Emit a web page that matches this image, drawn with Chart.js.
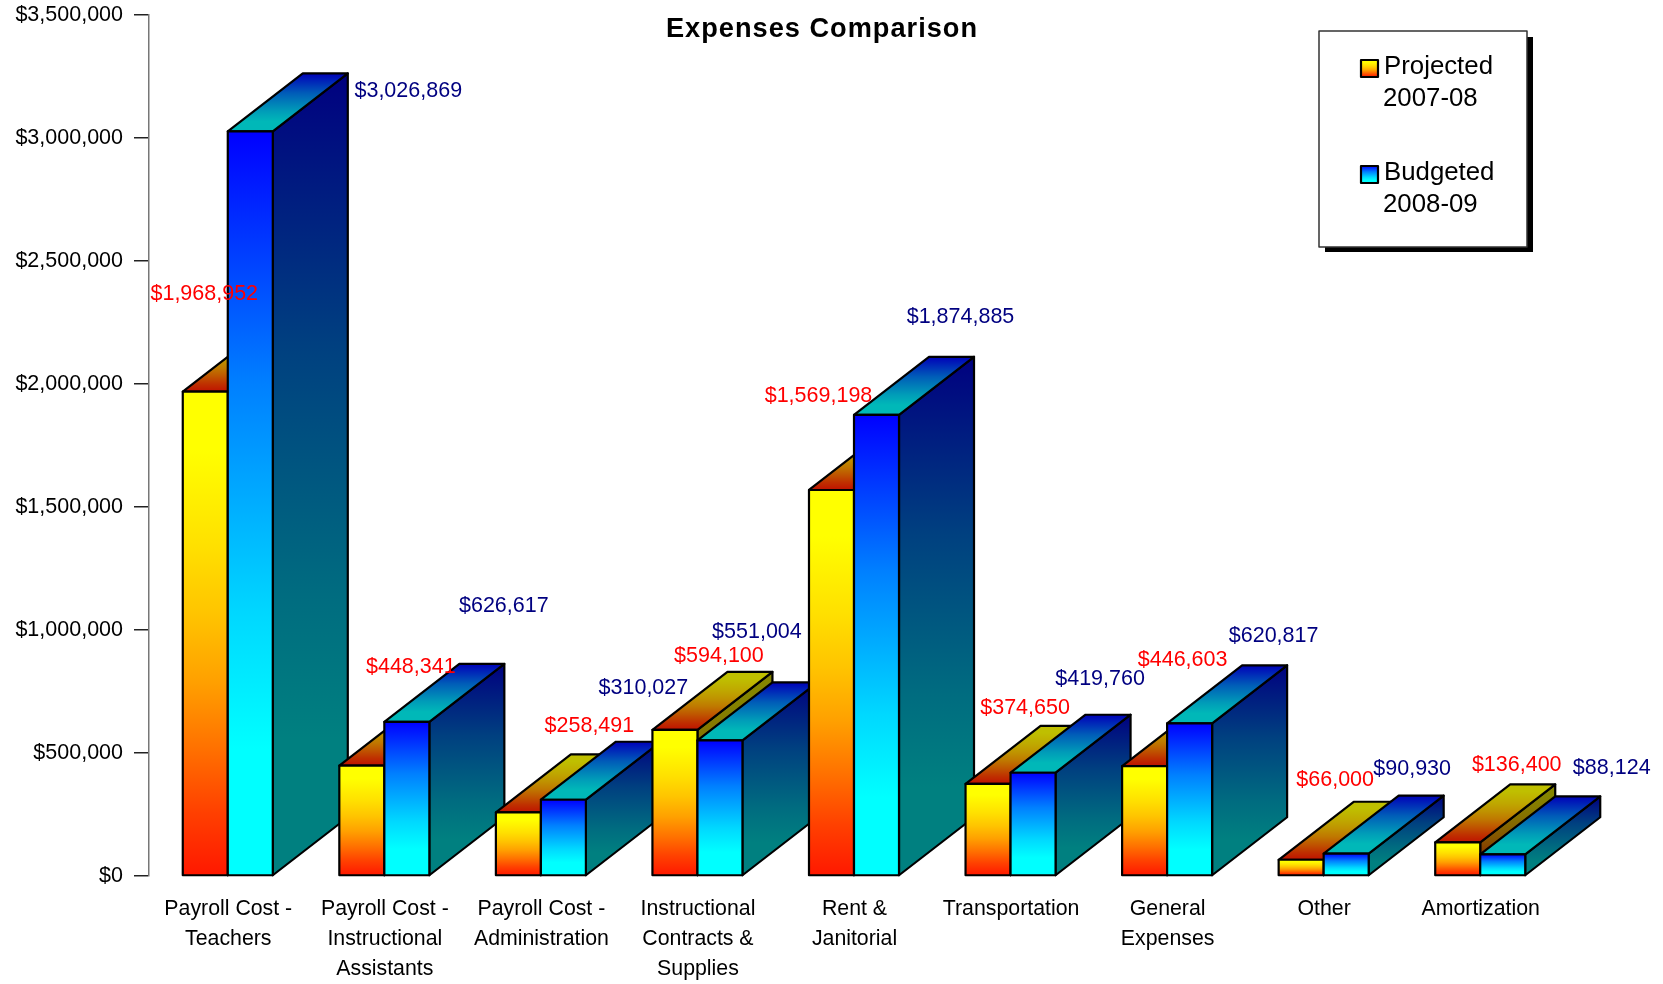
<!DOCTYPE html>
<html>
<head>
<meta charset="utf-8">
<title>Expenses Comparison</title>
<script src="https://cdn.jsdelivr.net/npm/chart.js@4/dist/chart.umd.min.js"></script>
<style>
    html, body { margin: 0; padding: 0; background: #fff; }
    canvas { display: block; }
</style>
</head>
<body>
<canvas id="expenses-chart" width="1663" height="984"></canvas>
<script>
const CHART_TITLE = 'Expenses Comparison';

const categories = [
    ['Payroll Cost -', 'Teachers'],
    ['Payroll Cost -', 'Instructional', 'Assistants'],
    ['Payroll Cost -', 'Administration'],
    ['Instructional', 'Contracts &', 'Supplies'],
    ['Rent &', 'Janitorial'],
    'Transportation',
    ['General', 'Expenses'],
    'Other',
    'Amortization'
];

const projected = [1968952, 448341, 258491, 594100, 1569198, 374650, 446603, 66000, 136400];
const budgeted = [3026869, 626617, 310027, 551004, 1874885, 419760, 620817, 90930, 88124];

const seriesNames = [['Projected', '2007-08'], ['Budgeted', '2008-09']];

const FONT = '"Liberation Sans", Arial, sans-serif';

// The gradients are not linear, these are the green channel levels read down a bar
const warmRamp = [[0, 255], [0.12, 255], [0.32, 224], [0.46, 196], [0.6, 160], [0.74, 112], [0.87, 64], [1, 24]];
const coolRamp = [[0, 0], [0.34, 128], [0.51, 176], [0.65, 216], [0.83, 255], [1, 255]];

/**
 * Builds gradient stops from a ramp at a given brightness.
 * @param {Array} ramp Position and green level pairs.
 * @param {boolean} warm True for red based, false for blue based colors.
 * @param {number} shade Brightness factor of the panel.
 */
function rampStops(ramp, warm, shade) {
    const full = Math.round(255 * shade);
    return ramp.map(([position, green]) => {
        const g = Math.round(green * shade);
        return [position, warm ? `rgb(${full},${g},0)` : `rgb(0,${g},${full})`];
    });
}

const palettes = [
    {
        front: rampStops(warmRamp, true, 1),
        top: rampStops(warmRamp, true, 0.75),
        side: rampStops(warmRamp, true, 0.52),
        label: '#ff0000'
    },
    {
        front: rampStops(coolRamp, false, 1),
        top: rampStops(coolRamp, false, 0.72),
        side: rampStops(coolRamp, false, 0.5),
        label: '#000080'
    }
];

// The value labels were placed by hand in the original, offsets are from the bar top centre
const labelOffsets = [
    [[-1, -98], [49, -99], [71, -86], [44, -74], [-13, -94], [37, -76], [38, -106], [34, -80], [59, -77]],
    [[158, -40], [97, -116], [80, -112], [37, -108], [84, -98], [67, -94], [84, -87], [66, -85], [109, -86]]
];

const DEPTH_X = 75;
const DEPTH_Y = 58;
const BAR_NUDGE = 0.5;

/**
 * Formats a number as whole dollars.
 * @param {number} value The value to format.
 */
function toDollars(value) {
    return '$' + Number(value).toLocaleString('en-US');
}

/**
 * Fills a polygon with a vertical gradient and strokes it.
 * @param {CanvasRenderingContext2D} ctx The drawing context.
 * @param {Array} points Corner points of the polygon.
 * @param {Array} stops Gradient stops from top to bottom.
 */
function drawPanel(ctx, points, stops) {
    const ys = points.map(p => p[1]);
    const gradient = ctx.createLinearGradient(0, Math.min(...ys), 0, Math.max(...ys));
    stops.forEach(([position, color]) => gradient.addColorStop(position, color));

    ctx.beginPath();
    points.forEach((p, i) => (i === 0 ? ctx.moveTo(p[0], p[1]) : ctx.lineTo(p[0], p[1])));
    ctx.closePath();
    ctx.fillStyle = gradient;
    ctx.fill();
    ctx.strokeStyle = '#000';
    ctx.lineWidth = 2.2;
    ctx.lineJoin = 'round';
    ctx.stroke();
}

/**
 * Draws one extruded bar from the element that Chart.js laid out.
 */
function drawBar(ctx, bar, palette) {
    const left = bar.x - bar.width / 2 + BAR_NUDGE;
    const right = bar.x + bar.width / 2 + BAR_NUDGE;
    const top = bar.y;
    const base = bar.base;

    drawPanel(ctx, [
        [right, top], [right + DEPTH_X, top - DEPTH_Y],
        [right + DEPTH_X, base - DEPTH_Y], [right, base]
    ], palette.side);
    drawPanel(ctx, [
        [left, top], [left + DEPTH_X, top - DEPTH_Y],
        [right + DEPTH_X, top - DEPTH_Y], [right, top]
    ], palette.top);
    drawPanel(ctx, [[left, top], [right, top], [right, base], [left, base]], palette.front);
}

/**
 * Draws the boxed legend with its drop shadow.
 */
function drawLegend(ctx) {
    ctx.fillStyle = '#000';
    ctx.fillRect(1325, 37, 208, 215);
    ctx.fillStyle = '#fff';
    ctx.fillRect(1319, 31, 208, 216);
    ctx.strokeStyle = '#333';
    ctx.lineWidth = 1.5;
    ctx.strokeRect(1319, 31, 208, 216);

    ctx.font = '25.8px ' + FONT;
    ctx.textAlign = 'left';
    ctx.textBaseline = 'middle';
    seriesNames.forEach((lines, i) => {
        const y = 66 + i * 106;
        drawPanel(ctx, [[1361, y - 6], [1378, y - 6], [1378, y + 11], [1361, y + 11]], palettes[i].front);
        ctx.fillStyle = '#000';
        ctx.fillText(lines[0], 1384, y + 1);
        ctx.fillText(lines[1], 1383, y + 33);
    });
}

const bars3d = {
    id: 'bars3d',
    beforeDatasetsDraw(chart) {
        const ctx = chart.ctx;
        // Painted category by category so a bar covers the extrusion of its left neighbour
        categories.forEach((category, i) => {
            chart.data.datasets.forEach((dataset, d) => {
                drawBar(ctx, chart.getDatasetMeta(d).data[i], palettes[d]);
            });
        });
        return false; // the default flat bars are not wanted
    },
    afterDraw(chart) {
        const ctx = chart.ctx;
        ctx.save();
        ctx.textAlign = 'center';
        ctx.textBaseline = 'middle';
        ctx.font = '21.5px ' + FONT;
        chart.data.datasets.forEach((dataset, d) => {
            ctx.fillStyle = palettes[d].label;
            chart.getDatasetMeta(d).data.forEach((bar, i) => {
                const offset = labelOffsets[d][i];
                ctx.fillText(toDollars(dataset.data[i]), bar.x + BAR_NUDGE + offset[0], bar.y + offset[1]);
            });
        });

        ctx.fillStyle = '#000';
        ctx.font = 'bold 27.2px ' + FONT;
        ctx.letterSpacing = '1px';
        ctx.fillText(CHART_TITLE, 822, 30);
        ctx.letterSpacing = '0px';

        drawLegend(ctx);
        ctx.restore();
    }
};

new Chart(document.getElementById('expenses-chart').getContext('2d'), {
    type: 'bar',
    data: {
        labels: categories,
        datasets: [
            { label: seriesNames[0].join(' '), data: projected },
            { label: seriesNames[1].join(' '), data: budgeted }
        ]
    },
    plugins: [bars3d],
    options: {
        responsive: false,
        animation: false,
        devicePixelRatio: 1,
        categoryPercentage: 0.575,
        barPercentage: 1,
        layout: { padding: { top: 15, right: 105, bottom: 0, left: 0 } },
        plugins: {
            legend: { display: false },
            title: { display: false },
            tooltip: { enabled: false }
        },
        scales: {
            x: {
                afterFit: scale => { scale.height = 108; },
                grid: { display: false },
                border: { display: false },
                ticks: {
                    autoSkip: false,
                    maxRotation: 0,
                    minRotation: 0,
                    labelOffset: 1,
                    padding: 10.5,
                    color: '#000',
                    font: { family: FONT, size: 21.3, lineHeight: 1.4 }
                }
            },
            y: {
                min: 0,
                max: 3500000,
                afterFit: scale => {
                    scale.width = 149;
                    scale.paddingTop = 0;
                    scale.paddingBottom = 0;
                },
                grid: { drawOnChartArea: false, tickLength: 15, color: '#222', lineWidth: 1.5 },
                border: { display: true, color: '#777', width: 1.5 },
                ticks: {
                    stepSize: 500000,
                    padding: 11,
                    color: '#000',
                    font: { family: FONT, size: 21.5 },
                    callback: value => toDollars(value)
                }
            }
        }
    }
});
</script>
</body>
</html>
